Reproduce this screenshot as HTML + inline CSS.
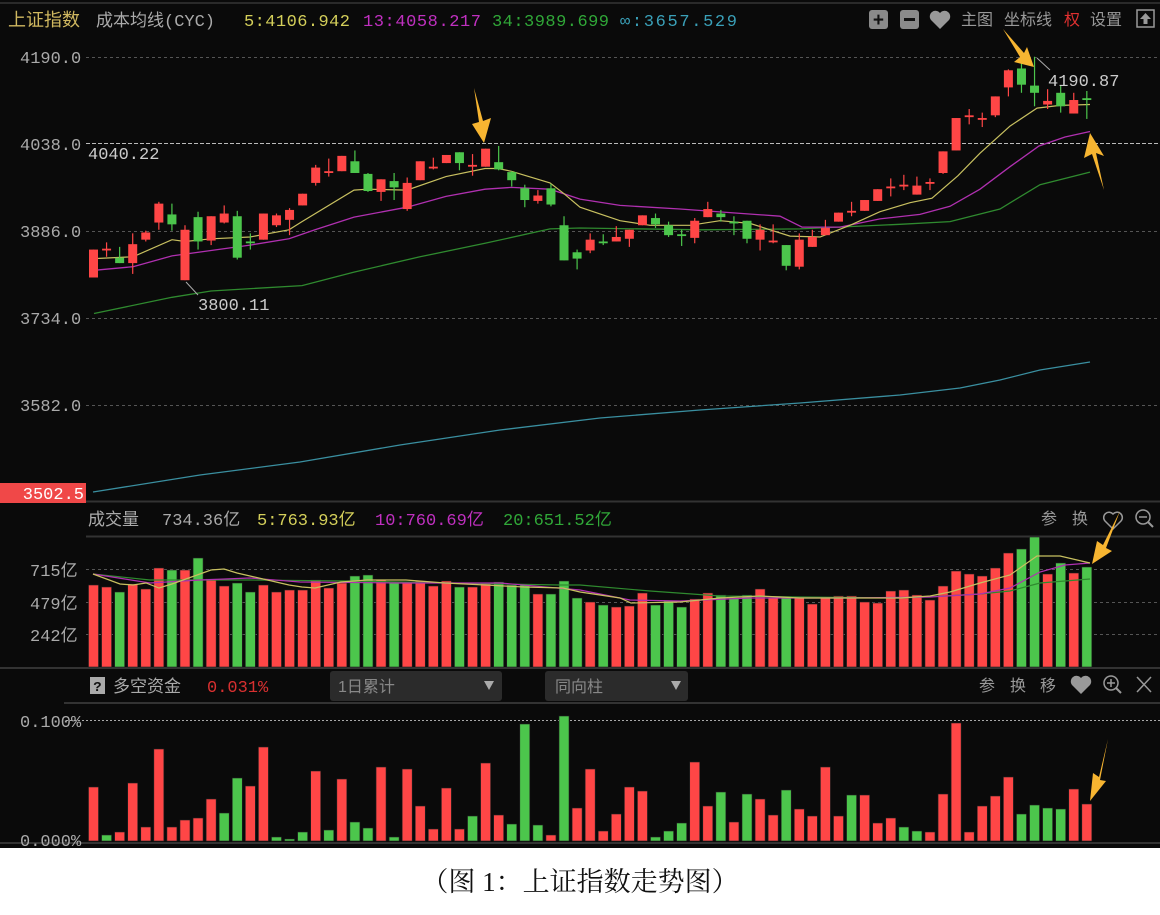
<!DOCTYPE html>
<html><head><meta charset="utf-8">
<style>
html,body{margin:0;padding:0;background:#fff;width:1160px;height:915px;overflow:hidden}
svg{display:block}
text{font-family:"Liberation Mono","Noto Sans CJK SC",monospace}
.cj{font-family:"Liberation Sans","Noto Sans CJK SC",sans-serif}
</style></head>
<body>
<svg id="s" width="1160" height="915" xmlns="http://www.w3.org/2000/svg">
<rect x="0" y="0" width="1160" height="848" fill="#0a0a0a"/>
<rect x="0" y="848" width="1160" height="67" fill="#fff"/>
<line x1="0" y1="3" x2="1160" y2="3" stroke="#2a2a2a" stroke-width="2"/>
<g stroke="#555" stroke-dasharray="3,3" stroke-width="1">
<line x1="86" y1="57.5" x2="1160" y2="57.5"/>
<line x1="86" y1="231.5" x2="1160" y2="231.5"/>
<line x1="86" y1="318.5" x2="1160" y2="318.5"/>
<line x1="86" y1="405.5" x2="1160" y2="405.5"/>
<line x1="86" y1="569.5" x2="1160" y2="569.5"/>
<line x1="86" y1="602.5" x2="1160" y2="602.5"/>
<line x1="86" y1="634.5" x2="1160" y2="634.5"/>
</g>
<line x1="86" y1="143.5" x2="1160" y2="143.5" stroke="#bbb" stroke-dasharray="4,2" stroke-width="1"/>
<line x1="66" y1="720.5" x2="1160" y2="720.5" stroke="#aaa" stroke-dasharray="2,2" stroke-width="1"/>
<line x1="86" y1="501.5" x2="1160" y2="501.5" stroke="#333" stroke-width="2"/>
<line x1="86" y1="536.5" x2="1160" y2="536.5" stroke="#333" stroke-width="2"/>
<line x1="0" y1="668" x2="1160" y2="668" stroke="#333" stroke-width="2"/>
<line x1="64" y1="703" x2="1160" y2="703" stroke="#333" stroke-width="2"/>
<line x1="0" y1="843" x2="1160" y2="843" stroke="#333" stroke-width="2"/>

<g id="lines"></g>
<g id="bars"></g>

<text x="8" y="26" font-size="18" fill="#d0b860" class="cj">上证指数</text>
<text x="96" y="26" font-size="17" fill="#aaa">成本均线(CYC)</text>
<text x="244" y="26" font-size="17" fill="#d4cf5a" textLength="106">5:4106.942</text>
<text x="363" y="26" font-size="17" fill="#c030c0" textLength="118">13:4058.217</text>
<text x="492" y="26" font-size="17" fill="#30a838" textLength="117">34:3989.699</text>
<text x="620" y="26" font-size="17" fill="#3aa0b8" textLength="117">∞:3657.529</text>
<rect x="869" y="10" width="19" height="19" rx="3" fill="#8a8a8a"/>
<text x="878.5" y="26" font-size="19" fill="#111" text-anchor="middle" font-weight="bold">+</text>
<rect x="900" y="10" width="19" height="19" rx="3" fill="#8a8a8a"/>
<rect x="904" y="18" width="11" height="3" fill="#111"/>
<path d="M940 29 L931 20 A5 5 0 0 1 940 13 A5 5 0 0 1 949 20 Z" fill="#999"/>
<text x="961" y="25" font-size="16" fill="#999" class="cj">主图</text>
<text x="1004" y="25" font-size="16" fill="#999" class="cj">坐标线</text>
<text x="1064" y="25" font-size="16" fill="#e03030" class="cj">权</text>
<text x="1090" y="25" font-size="16" fill="#999" class="cj">设置</text>
<rect x="1137" y="10" width="17" height="17" fill="none" stroke="#999" stroke-width="1.5"/>
<path d="M1145.5 13 L1140 19 L1143.5 19 L1143.5 24 L1147.5 24 L1147.5 19 L1151 19 Z" fill="#999"/>

<g font-size="17" fill="#aaa">
<text x="20" y="63">4190.0</text>
<text x="20" y="150">4038.0</text>
<text x="20" y="237">3886.0</text>
<text x="20" y="324">3734.0</text>
<text x="20" y="411">3582.0</text>
<text x="88" y="159" fill="#ccc">4040.22</text>
<text x="198" y="310" fill="#ccc">3800.11</text>
<text x="1048" y="86" fill="#ccc">4190.87</text>
</g>
<line x1="186" y1="282" x2="198" y2="295" stroke="#aaa"/>
<line x1="1037" y1="58" x2="1050" y2="70" stroke="#aaa"/>
<rect x="0" y="483" width="86" height="20" fill="#f04848"/>
<text x="84" y="499" font-size="17" fill="#fff" text-anchor="end">3502.5</text>

<text x="88" y="525" font-size="17" fill="#aaa" class="cj">成交量</text>
<text x="162" y="525" font-size="17" fill="#aaa">734.36亿</text>
<text x="257" y="525" font-size="17" fill="#d4cf5a">5:763.93亿</text>
<text x="375" y="525" font-size="17" fill="#c030c0">10:760.69亿</text>
<text x="503" y="525" font-size="17" fill="#30a838">20:651.52亿</text>
<text x="1041" y="524" font-size="16" fill="#999" class="cj">参</text>
<text x="1072" y="524" font-size="16" fill="#999" class="cj">换</text>
<path d="M1113 529 L1105 521 A4.5 4.5 0 0 1 1113 514 A4.5 4.5 0 0 1 1121 521 Z" fill="none" stroke="#999" stroke-width="1.5"/>
<circle cx="1143" cy="517" r="7" fill="none" stroke="#999" stroke-width="1.5"/>
<line x1="1148" y1="522" x2="1153" y2="527" stroke="#999" stroke-width="2"/>
<line x1="1139" y1="517" x2="1147" y2="517" stroke="#999" stroke-width="1.5"/>
<g font-size="17" fill="#aaa">
<text x="30" y="576">715亿</text>
<text x="30" y="609">479亿</text>
<text x="30" y="641">242亿</text>
</g>

<rect x="90" y="677" width="15" height="17" fill="#aaa"/>
<text x="97.5" y="691" font-size="14" fill="#111" text-anchor="middle" font-weight="bold">?</text>
<text x="113" y="692" font-size="17" fill="#aaa" class="cj">多空资金</text>
<text x="207" y="692" font-size="17" fill="#d83030">0.031%</text>
<rect x="330" y="671" width="172" height="30" rx="3" fill="#2b2b2b"/>
<text x="338" y="692" font-size="16" fill="#888" class="cj">1日累计</text>
<path d="M484 681 L494 681 L489 690 Z" fill="#aaa"/>
<rect x="545" y="671" width="143" height="30" rx="3" fill="#2b2b2b"/>
<text x="555" y="692" font-size="16" fill="#888" class="cj">同向柱</text>
<path d="M671 681 L681 681 L676 690 Z" fill="#aaa"/>
<text x="979" y="691" font-size="16" fill="#999" class="cj">参</text>
<text x="1010" y="691" font-size="16" fill="#999" class="cj">换</text>
<text x="1040" y="691" font-size="16" fill="#999" class="cj">移</text>
<path d="M1081 694 L1072 685 A5 5 0 0 1 1081 678 A5 5 0 0 1 1090 685 Z" fill="#999"/>
<circle cx="1111" cy="683" r="7" fill="none" stroke="#999" stroke-width="1.5"/>
<line x1="1116" y1="688" x2="1121" y2="693" stroke="#999" stroke-width="2"/>
<line x1="1107" y1="683" x2="1115" y2="683" stroke="#999" stroke-width="1.5"/>
<line x1="1111" y1="679" x2="1111" y2="687" stroke="#999" stroke-width="1.5"/>
<line x1="1137" y1="677" x2="1151" y2="692" stroke="#999" stroke-width="1.5"/>
<line x1="1151" y1="677" x2="1137" y2="692" stroke="#999" stroke-width="1.5"/>
<text x="20" y="727" font-size="17" fill="#aaa">0.100%</text>
<text x="20" y="846" font-size="17" fill="#aaa">0.000%</text>

<g fill="#f7b531">
<polygon points="474,88 483,121 491,118 484,143 472,124 479,122"/>
<polygon points="1003,29 1024,53 1027,47 1034,67 1014,62 1020,57"/>
<polygon points="1104,190 1096,153 1104,156 1090,133 1084,158 1092,154"/>
<polygon points="1120,511 1103,545 1097,541 1092,564 1112,551 1106,548"/>
<polygon points="1108,739 1099,777 1093,773 1090,801 1106,781 1100,780"/>
</g>

<text x="580" y="891" font-size="27" fill="#111" text-anchor="middle" style="font-family:'Liberation Serif','Noto Serif CJK SC',serif">（图 1：上证指数走势图）</text>
</svg>
<script>
(function(){
var NS="http://www.w3.org/2000/svg";
var bars=document.getElementById("bars"),lines=document.getElementById("lines");
function el(t,a,p){var e=document.createElementNS(NS,t);for(var k in a)e.setAttribute(k,a[k]);(p||bars).appendChild(e);return e;}
var R="#ff4646",G="#4cc64c";
function X(i){return 93.5+i*13.07;}
var C=[[277,308,277,308,'r'],[276,278,269,285,'r'],[286,292,274,292,'g'],[271,292,259,304,'r'],[258,266,256,268,'r'],[226,247,224,255,'r'],[238,249,226,256,'g'],[255,311,250,311,'r'],[241,268,235,277,'g'],[240,267,240,272,'r'],[237,247,228,248,'r'],[240,286,234,288,'g'],[268,270,259,277,'g'],[237,266,237,266,'r'],[239,250,237,252,'r'],[233,244,231,261,'r'],[215,228,215,228,'r'],[186,203,183,206,'r'],[190,192,176,196,'r'],[173,190,173,190,'r'],[179,192,167,192,'g'],[193,212,192,213,'g'],[199,213,199,223,'r'],[201,208,192,222,'g'],[203,232,197,234,'r'],[179,200,179,200,'r'],[185,187,175,188,'r'],[172,181,172,181,'r'],[169,181,169,189,'g'],[183,185,171,195,'r'],[165,185,165,185,'r'],[180,188,162,189,'g'],[191,200,190,207,'g'],[209,222,205,230,'g'],[217,223,211,226,'r'],[209,227,204,229,'g'],[250,289,240,289,'g'],[280,287,277,299,'g'],[266,278,259,281,'r'],[268,270,260,272,'g'],[263,268,251,268,'r'],[255,265,255,274,'r'],[239,250,239,250,'r'],[242,249,237,253,'g'],[250,261,246,263,'g'],[260,262,255,273,'g'],[245,264,242,270,'r'],[232,241,224,241,'r'],[237,241,233,246,'g'],[246,248,240,261,'g'],[245,265,245,270,'g'],[255,266,249,278,'r'],[267,269,249,270,'r'],[272,295,272,300,'g'],[266,296,259,299,'r'],[263,274,255,274,'r'],[253,261,244,261,'r'],[236,246,236,246,'r'],[234,236,224,240,'r'],[222,234,222,234,'r'],[210,223,210,223,'r'],[207,209,198,218,'r'],[205,207,194,211,'r'],[206,216,196,216,'r'],[202,204,198,211,'r'],[168,192,168,193,'r'],[131,167,131,167,'r'],[128,130,121,138,'r'],[131,133,125,141,'r'],[107,128,107,130,'r'],[78,97,77,107,'r'],[76,94,70,103,'g'],[95,103,63,118,'g'],[112,116,99,121,'r'],[103,118,95,125,'g'],[111,126,103,126,'r'],[109,111,101,132,'g']];
var S=0.901;
function P(a,s){return a.map(function(p){return p[0]+","+(p[1]*s).toFixed(1);}).join(" ");}
el("polyline",{points:P([[93,492],[200,475],[300,462],[400,445],[500,430],[600,418],[700,410],[800,403],[900,395],[960,388],[1000,380],[1040,370],[1090,362]],1),fill:"none",stroke:"#3a8fa0","stroke-width":1.3},lines);
el("polyline",{points:P([[94,348],[172,330],[211,323],[302,317],[354,302],[420,285],[485,270],[550,254],[580,253],[700,255],[800,254],[900,249],[950,246],[1000,232],[1040,205],[1090,191]],S),fill:"none",stroke:"#2f8a2f","stroke-width":1.3},lines);
el("polyline",{points:P([[94,300],[133,296],[172,284],[211,278],[250,272],[289,265],[315,255],[354,241],[407,230],[446,218],[485,210],[511,208],[550,210],[580,221],[620,228],[680,232],[730,236],[780,240],[802,252],[840,252],[880,243],[920,238],[950,229],[980,210],[1010,185],[1039,162],[1065,152],[1090,146]],S),fill:"none",stroke:"#b030b0","stroke-width":1.3},lines);
el("polyline",{points:P([[94,287],[133,285],[172,266],[185,268],[211,265],[250,263],[289,255],[302,246],[354,211],[367,210],[407,211],[446,196],[485,187],[498,187],[511,190],[550,203],[564,215],[580,230],[620,245],[650,250],[690,250],[720,245],[750,248],[790,262],[820,263],[850,250],[880,235],[910,225],[932,220],[958,195],[980,170],[1010,140],[1037,120],[1060,117],[1090,116]],S),fill:"none",stroke:"#c8c060","stroke-width":1.2},lines);
C.forEach(function(c,i){var x=X(i),col=c[4]=='r'?R:G;
 el("line",{x1:x,y1:c[2]*S,x2:x,y2:c[3]*S,stroke:col,"stroke-width":1.2});
 var t=c[0]*S,b=c[1]*S;if(b-t<1.5){b=t+1.5;}
 el("rect",{x:x-4.5,y:t,width:9,height:b-t,fill:col});});
var V=[[585,'r'],[587,'r'],[592,'g'],[584,'r'],[589,'r'],[568,'r'],[570,'g'],[570,'r'],[558,'g'],[579,'r'],[586,'r'],[583,'g'],[592,'g'],[585,'r'],[592,'r'],[590,'r'],[590,'r'],[580,'r'],[588,'r'],[583,'r'],[576,'g'],[575,'g'],[580,'r'],[583,'g'],[583,'r'],[581,'r'],[586,'r'],[581,'r'],[587,'g'],[587,'r'],[583,'r'],[582,'g'],[585,'g'],[585,'g'],[594,'r'],[594,'g'],[581,'g'],[598,'g'],[602,'r'],[605,'g'],[607,'r'],[606,'r'],[593,'r'],[605,'g'],[601,'g'],[607,'g'],[599,'r'],[593,'r'],[595,'g'],[598,'g'],[595,'g'],[589,'r'],[598,'r'],[598,'g'],[598,'r'],[604,'r'],[598,'r'],[596,'r'],[596,'r'],[602,'r'],[603,'r'],[591,'r'],[590,'r'],[595,'r'],[600,'r'],[586,'r'],[571,'r'],[574,'r'],[576,'r'],[568,'r'],[553,'r'],[549,'g'],[537,'g'],[574,'r'],[563,'g'],[573,'r'],[567,'g']];
V.forEach(function(v,i){var x=X(i);el("rect",{x:x-5,y:v[0],width:10,height:667-v[0],fill:v[1]=='r'?R:G,stroke:"#222","stroke-width":0.6});});
function PL(a,c){el("polyline",{points:P(a,1),fill:"none",stroke:c,"stroke-width":1.2});}
PL([[93,574],[150,580],[250,580],[350,581],[450,583],[560,585],[580,585],[650,591],[720,596],[800,597],[900,598],[945,596],[980,594],[1010,591],[1040,583],[1090,579]],"#2f8a2f");
PL([[93,574],[150,583],[200,580],[250,578],[300,582],[400,583],[500,583],[580,590],[630,600],[680,601],[750,598],[850,598],[930,597],[980,594],[1010,588],[1040,572],[1065,565],[1090,563]],"#b030b0");
PL([[93,574],[120,584],[133,585],[146,583],[159,588],[172,584],[211,570],[224,569],[237,573],[250,576],[276,582],[289,585],[302,587],[315,588],[341,582],[367,580],[406,580],[445,583],[485,585],[524,587],[563,588],[580,592],[620,598],[631,603],[680,602],[720,598],[760,596],[800,598],[860,598],[900,598],[930,596],[950,592],[980,583],[1010,575],[1037,556],[1060,556],[1090,563]],"#c8c060");
var K=[[787,'r'],[835,'g'],[832,'r'],[783,'r'],[827,'r'],[749,'r'],[827,'r'],[820,'r'],[818,'r'],[799,'r'],[813,'g'],[778,'g'],[786,'r'],[747,'r'],[837,'g'],[839,'g'],[832,'g'],[771,'r'],[830,'g'],[779,'r'],[822,'g'],[828,'g'],[767,'r'],[837,'g'],[769,'r'],[806,'r'],[829,'r'],[788,'r'],[829,'r'],[816,'g'],[763,'r'],[815,'r'],[824,'g'],[724,'g'],[825,'g'],[835,'r'],[716,'g'],[808,'r'],[769,'r'],[831,'r'],[814,'r'],[787,'r'],[791,'r'],[837,'g'],[831,'g'],[823,'g'],[762,'r'],[806,'r'],[792,'g'],[822,'r'],[794,'g'],[799,'r'],[815,'r'],[790,'g'],[809,'r'],[816,'r'],[767,'r'],[816,'r'],[795,'g'],[795,'r'],[823,'r'],[818,'r'],[827,'g'],[831,'g'],[832,'r'],[794,'r'],[723,'r'],[832,'r'],[806,'r'],[796,'r'],[777,'r'],[814,'g'],[805,'g'],[808,'g'],[809,'g'],[789,'r'],[804,'r']];
K.forEach(function(v,i){var x=X(i);el("rect",{x:x-5,y:v[0],width:10,height:841-v[0],fill:v[1]=='r'?R:G,stroke:"#222","stroke-width":0.6});});
})();
</script>
</body></html>
